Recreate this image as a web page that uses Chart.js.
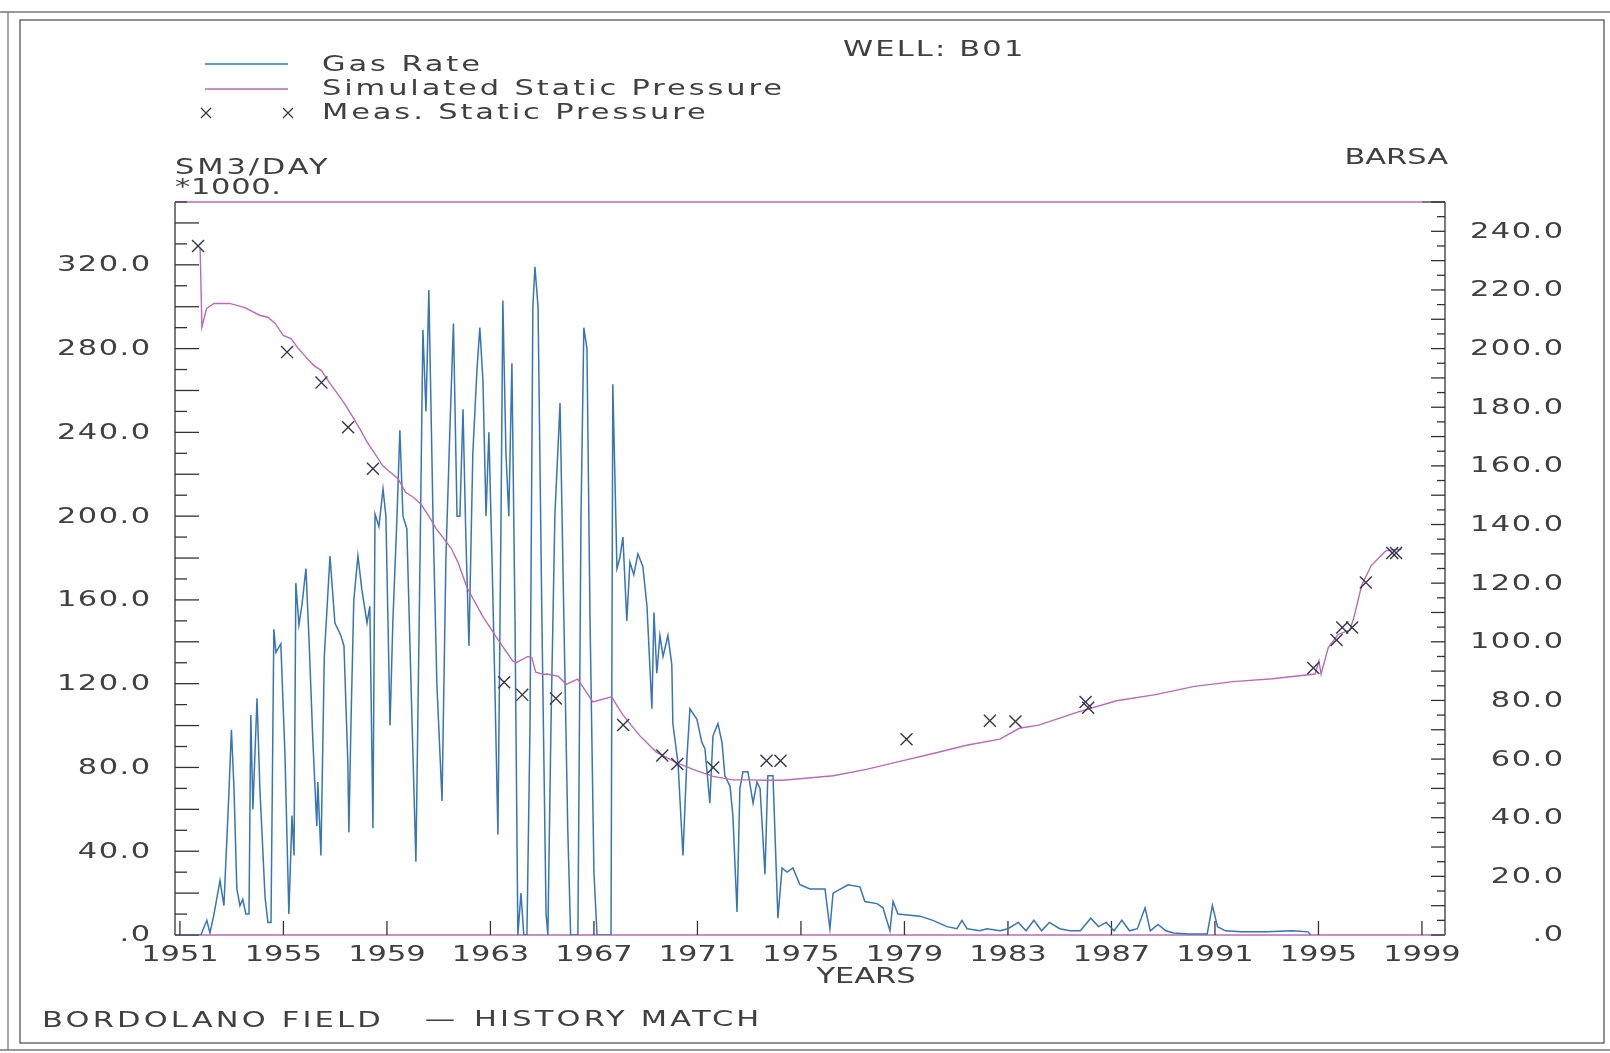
<!DOCTYPE html>
<html>
<head>
<meta charset="utf-8">
<title>WELL: B01 - Bordolano Field history match</title>
<script src="https://cdn.jsdelivr.net/npm/chart.js@4.4.1/dist/chart.umd.min.js"></script>
<style>
  html, body { margin: 0; padding: 0; background: #fff; }
  #wrap { width: 1610px; height: 1053px; }
</style>
</head>
<body>
<div id="wrap"><canvas id="grafico" width="1610" height="1053"></canvas></div>
<script>
// Gas rate (SM3/DAY *1000)
const gasYears = [
  1951.0, 1951.81, 1952.04, 1952.16, 1952.31, 1952.55, 1952.70, 1952.89, 1952.99, 1953.09,
  1953.20, 1953.32, 1953.43, 1953.55, 1953.67, 1953.74, 1953.82, 1953.98, 1954.09, 1954.29,
  1954.40, 1954.52, 1954.63, 1954.71, 1954.90, 1955.06, 1955.21, 1955.33, 1955.41, 1955.48,
  1955.60, 1955.72, 1955.87, 1955.99, 1956.14, 1956.29, 1956.33, 1956.45, 1956.58, 1956.80,
  1956.99, 1957.22, 1957.34, 1957.49, 1957.53, 1957.61, 1957.72, 1957.88, 1958.03, 1958.23,
  1958.34, 1958.46, 1958.54, 1958.69, 1958.85, 1958.96, 1959.12, 1959.23, 1959.39, 1959.50,
  1959.62, 1959.77, 1959.93, 1960.12, 1960.28, 1960.39, 1960.51, 1960.62, 1960.78, 1960.93,
  1961.13, 1961.28, 1961.43, 1961.57, 1961.71, 1961.82, 1961.94, 1962.05, 1962.17, 1962.32,
  1962.48, 1962.59, 1962.71, 1962.83, 1962.94, 1963.06, 1963.17, 1963.29, 1963.41, 1963.48,
  1963.60, 1963.71, 1963.83, 1963.95, 1964.06, 1964.18, 1964.29, 1964.41, 1964.53, 1964.64,
  1964.72, 1964.84, 1964.99, 1965.15, 1965.22, 1965.34, 1965.49, 1965.69, 1965.84, 1965.99,
  1966.10, 1966.38, 1966.50, 1966.61, 1966.73, 1966.85, 1967.00, 1967.12, 1967.66, 1967.73,
  1967.89, 1968.00, 1968.12, 1968.27, 1968.39, 1968.54, 1968.70, 1968.89, 1969.05, 1969.24,
  1969.32, 1969.43, 1969.55, 1969.67, 1969.86, 1970.01, 1970.05, 1970.25, 1970.44, 1970.60,
  1970.71, 1970.98, 1971.17, 1971.29, 1971.48, 1971.60, 1971.79, 1971.95, 1972.06, 1972.26,
  1972.37, 1972.53, 1972.64, 1972.76, 1972.95, 1973.15, 1973.30, 1973.42, 1973.61, 1973.72,
  1973.92, 1974.11, 1974.27, 1974.46, 1974.69, 1974.96, 1975.35, 1975.73, 1975.93, 1976.12,
  1976.24, 1976.82, 1977.28, 1977.47, 1977.94, 1978.17, 1978.44, 1978.56, 1978.75, 1979.60,
  1980.10, 1980.64, 1981.03, 1981.22, 1981.42, 1981.92, 1982.19, 1982.69, 1983.0, 1983.4,
  1983.7, 1984.0, 1984.3, 1984.6, 1985.0, 1985.4, 1985.8, 1986.2, 1986.5, 1986.8,
  1987.1, 1987.4, 1987.7, 1988.0, 1988.3, 1988.5, 1988.8, 1989.1, 1989.4, 1990.0,
  1990.7, 1990.9, 1991.1, 1991.4, 1992.0, 1993.0, 1994.0, 1994.6, 1994.7
];
const gasRate = [
  0, 0, 7, 1, 9.5, 26, 14, 67, 98, 70,
  22, 14, 17, 10, 10, 105, 60, 113, 70, 18,
  6, 6, 146, 135, 139, 86, 10, 57, 38, 168,
  148, 158, 175, 141, 92, 52, 73, 38, 133, 181,
  149, 143, 138, 82, 49, 101, 160, 181, 165, 149,
  157, 51, 201, 195, 213, 200, 100, 150, 200, 241,
  200, 194, 120, 35, 180, 289, 250, 308, 200, 120,
  64, 180, 240, 292, 200, 200, 251, 190, 138, 230,
  270, 290, 265, 200, 240, 180, 120, 48, 200, 303,
  230, 200, 273, 150, 0, 20, 0, 0, 100, 300,
  319, 300, 150, 10, 0, 100, 200, 254, 150, 50,
  0, 0, 200, 290, 280, 150, 30, 0, 0, 263,
  175, 180, 190, 150, 178, 172, 182, 176, 157, 108,
  154, 125, 143, 133, 143, 129, 101, 82, 38, 86,
  108, 103, 92, 89, 63, 95, 101, 92, 76, 71,
  57, 11, 70, 78, 78, 63, 73, 70, 29, 76,
  76, 8, 32, 30, 32, 24, 22, 22, 22, 3,
  20, 24, 23, 16, 15, 13, 2, 16, 10, 9,
  7, 4, 3, 7, 3, 2, 3, 2, 3, 6,
  2, 7, 2, 6, 3, 2, 2, 8, 4, 6,
  2, 7, 2, 3, 13, 2, 5, 2, 1, 0.5,
  0.5, 14, 4, 2, 1.5, 1.5, 2, 1.5, 0
];

// Simulated static pressure (BARSA)
const simYears = [
  1951.78, 1951.85, 1952.03, 1952.32, 1952.92, 1953.51, 1954.10, 1954.40, 1954.69, 1954.99,
  1955.29, 1955.58, 1955.88, 1956.18, 1956.47, 1956.77, 1957.06, 1957.36, 1957.65, 1957.95,
  1958.24, 1958.54, 1958.84, 1959.13, 1959.43, 1959.72, 1960.02, 1960.31, 1960.61, 1960.90,
  1961.20, 1961.49, 1961.75, 1962.09, 1962.68, 1963.27, 1963.86, 1964.0, 1964.45, 1964.6,
  1964.75, 1965.05, 1965.19, 1965.63, 1965.93, 1966.37, 1966.96, 1967.68, 1968.13, 1968.77,
  1969.42, 1970.19, 1970.83, 1971.60, 1972.38, 1973.02, 1973.67, 1974.31, 1974.96, 1976.25,
  1977.53, 1978.82, 1980.11, 1981.40, 1982.69, 1983.44, 1984.19, 1985.69, 1987.20, 1988.70,
  1990.21, 1991.71, 1993.22, 1994.87, 1995.02, 1995.10, 1995.38, 1995.76, 1996.21, 1996.36,
  1996.67, 1997.04, 1997.60, 1998.0, 1998.2
];
const simPressure = [
  234.6, 207.3, 213.7, 215.4, 215.4, 214, 211.3, 210.7, 208.5, 204.5,
  203.4, 200, 197, 194.2, 192.5, 188.5, 185, 181.2, 177.1, 172.7,
  168, 164.1, 160, 157.8, 155.6, 151, 149.3, 147, 143, 138.6,
  135.2, 131.8, 127, 118.6, 109, 101, 93.5, 92.9, 95, 94.6,
  89.6, 88.9, 89, 88.2, 85.5, 87.3, 79.5, 81.2, 74.9, 68,
  62.3, 58.8, 56.5, 54.1, 52.9, 52.9, 52.8, 52.8, 53.3, 54.3,
  56.5, 59.2, 61.9, 64.7, 66.8, 70.5, 71.6, 76, 79.9, 82,
  84.8, 86.4, 87.4, 89, 93.5, 89, 98, 102.5, 104, 108,
  119.3, 126, 131, 131.5, 131.5
];

// Measured static pressure (BARSA)
const measYears = [
  1951.7, 1955.14, 1956.47, 1957.5, 1958.46, 1963.53, 1964.23, 1965.53, 1968.13, 1969.64,
  1970.22, 1971.61, 1973.67, 1974.21, 1979.08, 1982.3, 1983.29, 1986.0, 1986.1, 1994.8,
  1995.7, 1995.92, 1996.3, 1996.83, 1997.85, 1998.0
];
const measPressure = [
  235, 198.8, 188.4, 173.2, 159, 86.2, 81.9, 80.7, 71.6, 61.2,
  58.3, 57.1, 59.4, 59.4, 66.8, 73.1, 72.8, 79.5, 77.5, 91.1,
  100.6, 104.9, 104.9, 120.2, 130.3, 130.3
];

// axis ticks
const yearTicks = [1951, 1955, 1959, 1963, 1967, 1971, 1975, 1979, 1983, 1987, 1991, 1995, 1999];
const rateTicks = [0, 40, 80, 120, 160, 200, 240, 280, 320];
const pressTicks = [0, 20, 40, 60, 80, 100, 120, 140, 160, 180, 200, 220, 240];

const FONT = '"DejaVu Sans", sans-serif';
const INK = '#404040';
const BLUE = '#3775b5';
const PINK = '#b86bb8';

function pts(xs, ys) {
  return xs.map((x, i) => ({ x: x, y: ys[i] }));
}

function fmt(v) {
  return v === 0 ? '.0' : v.toFixed(1);
}

// plotter font is wide and round: stretch it + a little letter spacing
function wideText(ctx, text, x, y, align, gap) {
  if (gap == null) gap = 1;
  const stretch = 1.45;
  ctx.save();
  ctx.font = '21px ' + FONT;
  ctx.fillStyle = INK;
  ctx.textBaseline = 'middle';
  ctx.textAlign = 'left';
  if ('letterSpacing' in ctx) ctx.letterSpacing = gap + 'px';
  const w = ctx.measureText(text).width - gap;
  let x0 = 0;
  if (align === 'right') x0 = -w;
  else if (align === 'center') x0 = -w / 2;
  ctx.translate(x, y);
  ctx.scale(stretch, 1);
  ctx.fillText(text, x0, 0);
  ctx.restore();
}

function seg(ctx, x1, y1, x2, y2) {
  ctx.beginPath();
  ctx.moveTo(x1, y1);
  ctx.lineTo(x2, y2);
  ctx.stroke();
}

function cross(ctx, x, y, h) {
  seg(ctx, x - h, y - h, x + h, y + h);
  seg(ctx, x - h, y + h, x + h, y - h);
}

const plotFrame = {
  id: 'plotFrame',
  beforeDatasetsDraw(chart) {
    const { ctx, chartArea: a, scales } = chart;
    const sx = scales.x, yl = scales.y, yr = scales.y2;
    ctx.save();
    ctx.lineWidth = 1.3;

    // page border
    ctx.strokeStyle = '#555';
    ctx.strokeRect(20, 20, 1584, 1023);
    ctx.strokeStyle = '#777';
    seg(ctx, 0, 12, 1610, 12);
    seg(ctx, 8, 12, 8, 1050);
    seg(ctx, 0, 1050, 1610, 1050);

    // plot box
    ctx.strokeStyle = '#333';
    seg(ctx, a.left, a.top, a.left, a.bottom);
    seg(ctx, a.right, a.top, a.right, a.bottom);
    const x99 = sx.getPixelForValue(yearTicks[yearTicks.length - 1]);
    seg(ctx, x99, a.top, a.right, a.top);
    ctx.strokeStyle = PINK;
    seg(ctx, a.left, a.top, x99, a.top);
    seg(ctx, a.left, a.bottom, a.right, a.bottom);

    // ticks, all pointing inward
    ctx.strokeStyle = '#333';
    for (let v = 0; v <= yl.max; v += 10) {
      const py = yl.getPixelForValue(v);
      seg(ctx, a.left, py, a.left + (v % 20 === 0 ? 24 : 12), py);
    }
    for (let v = 0; v <= yr.max; v += 5) {
      const py = yr.getPixelForValue(v);
      seg(ctx, a.right, py, a.right - (v % 10 === 0 ? 14 : 8), py);
    }
    yearTicks.forEach(t => {
      const px = sx.getPixelForValue(t);
      seg(ctx, px, a.bottom, px, a.bottom - 14);
    });
    ctx.restore();
  },
  afterDraw(chart) {
    const { ctx, chartArea: a, scales } = chart;
    const sx = scales.x, yl = scales.y, yr = scales.y2;
    const ds = chart.data.datasets;

    rateTicks.forEach(v => wideText(ctx, fmt(v), 150, yl.getPixelForValue(v) + 1, 'right', 1));
    pressTicks.forEach(v => wideText(ctx, fmt(v), 1563, yr.getPixelForValue(v) + 1, 'right', 1));
    yearTicks.forEach(t => wideText(ctx, String(t), sx.getPixelForValue(t), a.bottom + 21, 'center', 0));

    wideText(ctx, 'YEARS', 866, 978, 'center', 0);
    wideText(ctx, 'SM3/DAY', 175, 169, 'left', 2);
    wideText(ctx, '*1000.', 175, 189, 'left', 0.5);
    wideText(ctx, 'BARSA', 1448, 159, 'right', 0);
    wideText(ctx, 'WELL: B01', 843, 51, 'left', 1.5);
    wideText(ctx, 'BORDOLANO FIELD', 42, 1022, 'left', 2.2);
    wideText(ctx, '\u2014', 440, 1021, 'center', 0);
    wideText(ctx, 'HISTORY MATCH', 474, 1021, 'left', 2.2);

    // legend
    const gas = ds[2], sim = ds[1], meas = ds[0];
    ctx.save();
    ctx.lineWidth = 1.5;
    ctx.strokeStyle = gas.borderColor;
    seg(ctx, 205, 64, 288, 64);
    ctx.strokeStyle = sim.borderColor;
    seg(ctx, 205, 89, 288, 89);
    ctx.strokeStyle = meas.borderColor;
    ctx.lineWidth = 1.2;
    cross(ctx, 206, 113, 5);
    cross(ctx, 288, 113, 5);
    ctx.restore();
    wideText(ctx, gas.label, 322, 66, 'left', 2);
    wideText(ctx, sim.label, 322, 90, 'left', 2);
    wideText(ctx, meas.label, 322, 114, 'left', 2);
  }
};

const ctx1 = document.getElementById('grafico').getContext('2d');

const grafico = new Chart(ctx1, {
  type: 'scatter',
  data: {
    datasets: [
      {
        label: 'Meas. Static Pressure',
        data: pts(measYears, measPressure),
        yAxisID: 'y2',
        showLine: false,
        pointStyle: 'crossRot',
        pointRadius: 8.5,
        borderWidth: 1.4,
        borderColor: '#36364a',
        order: 0
      },
      {
        label: 'Simulated Static Pressure',
        data: pts(simYears, simPressure),
        yAxisID: 'y2',
        showLine: true,
        pointRadius: 0,
        borderWidth: 1.4,
        borderColor: PINK,
        tension: 0,
        order: 1
      },
      {
        label: 'Gas Rate',
        data: pts(gasYears, gasRate),
        yAxisID: 'y',
        showLine: true,
        pointRadius: 0,
        borderWidth: 1.5,
        borderColor: BLUE,
        tension: 0,
        order: 2
      }
    ]
  },
  options: {
    responsive: false,
    animation: false,
    layout: { padding: { left: 175, right: 165, top: 202, bottom: 118 } },
    plugins: {
      legend: { display: false },
      tooltip: { enabled: false }
    },
    scales: {
      x: { type: 'linear', min: 1950.81, max: 1999.89, display: false },
      y: { type: 'linear', position: 'left', min: 0, max: 350, display: false },
      y2: { type: 'linear', position: 'right', min: 0, max: 250, display: false }
    }
  },
  plugins: [plotFrame]
});
</script>
</body>
</html>
